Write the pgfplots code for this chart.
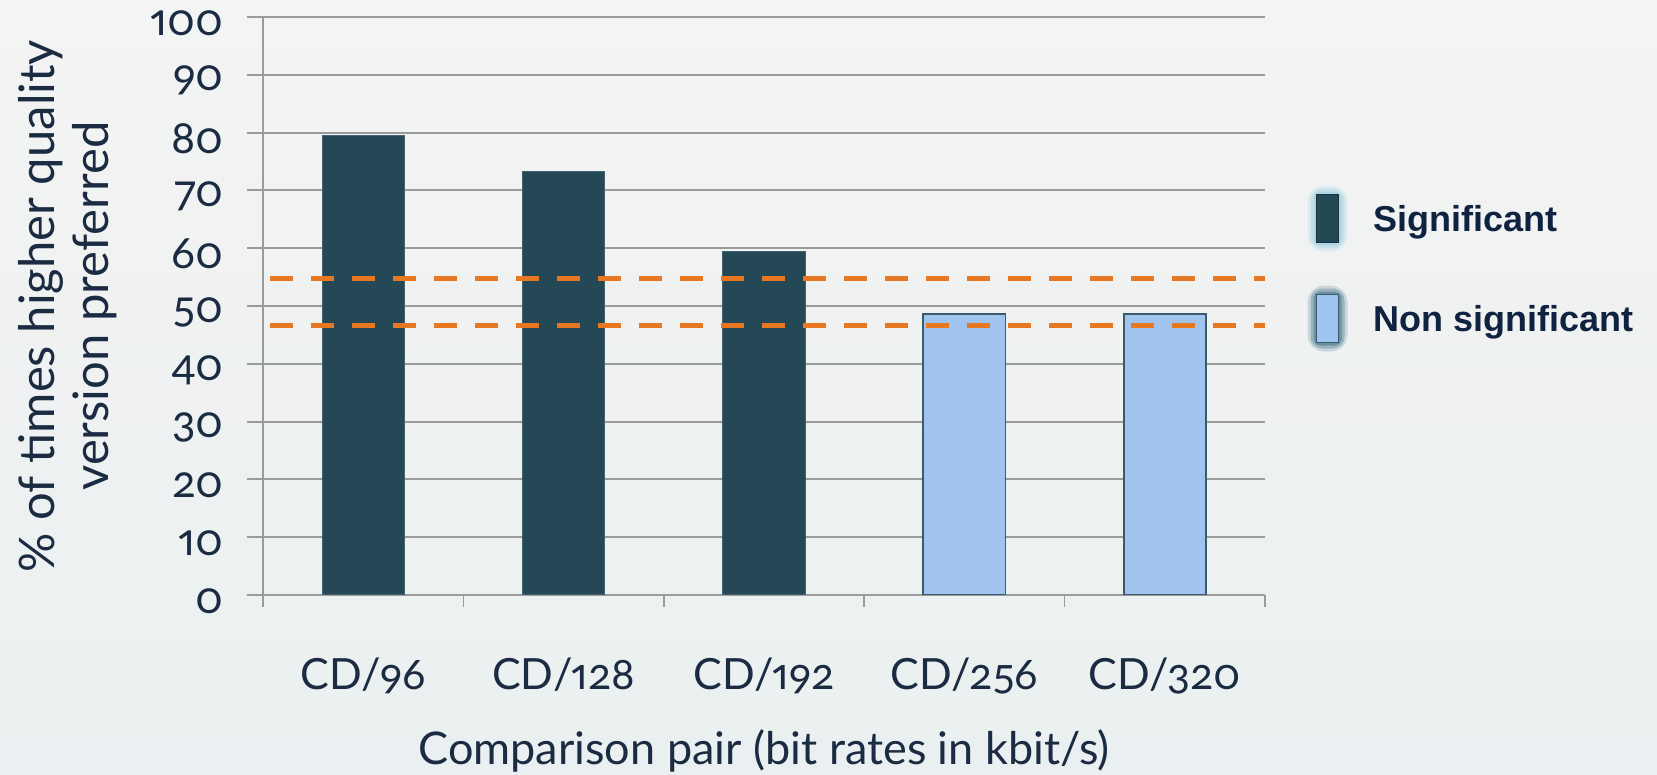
\documentclass[border=0pt]{standalone}
\usepackage{pgfplots}
\pgfplotsset{compat=1.18}
\usepackage{fontspec}
\setmainfont{Lato}[Numbers={OldStyle,Proportional}]
\newfontfamily\legendfont{Liberation Sans}

\definecolor{ink}{HTML}{1A2B42}
\definecolor{legendink}{HTML}{0F2340}
\definecolor{sigbar}{HTML}{244856}
\definecolor{nsbar}{HTML}{A0C4EE}
\definecolor{nsedge}{HTML}{3B5B6D}
\definecolor{thresh}{HTML}{E87722}
\definecolor{gridgray}{HTML}{9B9B9B}
\definecolor{bgtop}{HTML}{F7F7F7}
\definecolor{bgmid}{HTML}{F1F2F2}
\definecolor{bglow}{HTML}{EAF0F1}
\definecolor{bgbot}{HTML}{DCF2F4}
\definecolor{glowlight}{HTML}{A9D3E3}
\definecolor{glowdark}{HTML}{5E8A9A}

\pgfdeclareverticalshading{slidebg}{100bp}{color(0bp)=(bgbot); color(25bp)=(bglow); color(60bp)=(bgmid); color(100bp)=(bgtop)}

\begin{document}
\begin{tikzpicture}[x=1pt,y=1pt]
% slide background, which also fixes the page size
\path[use as bounding box] (0,0) rectangle (828.5,387.5);
\shade[shading=slidebg] (0,0) rectangle (828.5,387.5);

\begin{axis}[
  at={(131.5pt,90pt)}, anchor=south west,
  scale only axis, width=501pt, height=289pt,
  xmin=-0.5, xmax=4.5, ymin=0, ymax=100,
  xtick={0,...,4},
  xticklabels={CD/96,CD/128,CD/192,CD/256,CD/320},
  minor xtick={-0.5,0.5,...,4.5},
  ytick={0,10,...,100},
  ymajorgrids,
  grid style={gridgray, line width=1pt},
  axis x line*=bottom, axis y line*=left,
  axis line style={gridgray, line width=1.2pt, -},
  tick align=outside,
  major tick length=8pt, minor tick length=6pt,
  major x tick style={draw=none},
  minor x tick style={gridgray, line width=0.8pt},
  ytick style={gridgray, line width=1pt},
  /pgf/number format/assume math mode=true,
  tick label style={font=\fontsize{21.5}{25}\selectfont, text=ink},
  yticklabel style={xshift=-8pt, yshift=-3pt, font=\fontsize{22}{25}\selectfont},
  xticklabel style={yshift=-20pt},
  xlabel={Comparison pair (bit rates in kbit/s)},
  ylabel={\% of times higher quality\\version preferred},
  label style={font=\fontsize{22.5}{27}\selectfont, text=ink},
  ylabel style={align=center, font=\fontsize{24.5}{27}\selectfont,
    at={(axis description cs:-0.139,0.5)}, anchor=south},
  xlabel style={at={(axis description cs:0.5,0)}, anchor=north, yshift=-64pt},
  legend style={at={(axis description cs:1.042,0.709)}, anchor=north west,
    draw=none, fill=none, inner sep=0pt, row sep=17pt, column sep=11pt,
    font=\legendfont\bfseries\fontsize{18}{21}\selectfont, text=legendink},
  legend cell align=left,
]
% significant differences
\addplot[ybar, bar width=0.41, bar shift=0pt, fill=sigbar, draw=sigbar!85!white, line width=0.5pt,
  legend image code/.code={
    \draw[glowlight, opacity=0.25, line width=9pt, rounded corners=4pt] (0pt,-11.5pt) rectangle (11pt,12.5pt);
    \draw[glowlight, opacity=0.45, line width=6pt, rounded corners=3pt] (0pt,-11.5pt) rectangle (11pt,12.5pt);
    \draw[glowlight, opacity=0.8, line width=3pt, rounded corners=2pt] (0pt,-11.5pt) rectangle (11pt,12.5pt);
    \filldraw[fill=sigbar, draw=sigbar!70!black, line width=0.6pt] (0pt,-11.5pt) rectangle (11pt,12.5pt);
  }] coordinates {(0,79.5) (1,73.3) (2,59.4)};
\addlegendentry{Significant}
% non-significant differences
\addplot[ybar, bar width=0.41, bar shift=0pt, fill=nsbar, draw=nsedge, line width=0.9pt,
  legend image code/.code={
    \draw[glowdark, opacity=0.25, line width=9pt, rounded corners=4pt] (0pt,-11.5pt) rectangle (11pt,12.5pt);
    \draw[glowdark, opacity=0.45, line width=6pt, rounded corners=3pt] (0pt,-11.5pt) rectangle (11pt,12.5pt);
    \draw[glowdark, opacity=0.8, line width=3pt, rounded corners=2pt] (0pt,-11.5pt) rectangle (11pt,12.5pt);
    \filldraw[fill=nsbar, draw=nsedge, line width=0.8pt] (0pt,-11.5pt) rectangle (11pt,12.5pt);
  }] coordinates {(3,48.6) (4,48.6)};
\addlegendentry{Non significant}
% significance thresholds
\addplot[forget plot, thresh, line width=2.5pt, dash pattern=on 11.7pt off 8.8pt, dash phase=17pt]
  coordinates {(-0.5,54.8) (4.5,54.8)};
\addplot[forget plot, thresh, line width=2.5pt, dash pattern=on 11.7pt off 8.8pt, dash phase=17pt]
  coordinates {(-0.5,46.6) (4.5,46.6)};
\end{axis}
\end{tikzpicture}
\end{document}
